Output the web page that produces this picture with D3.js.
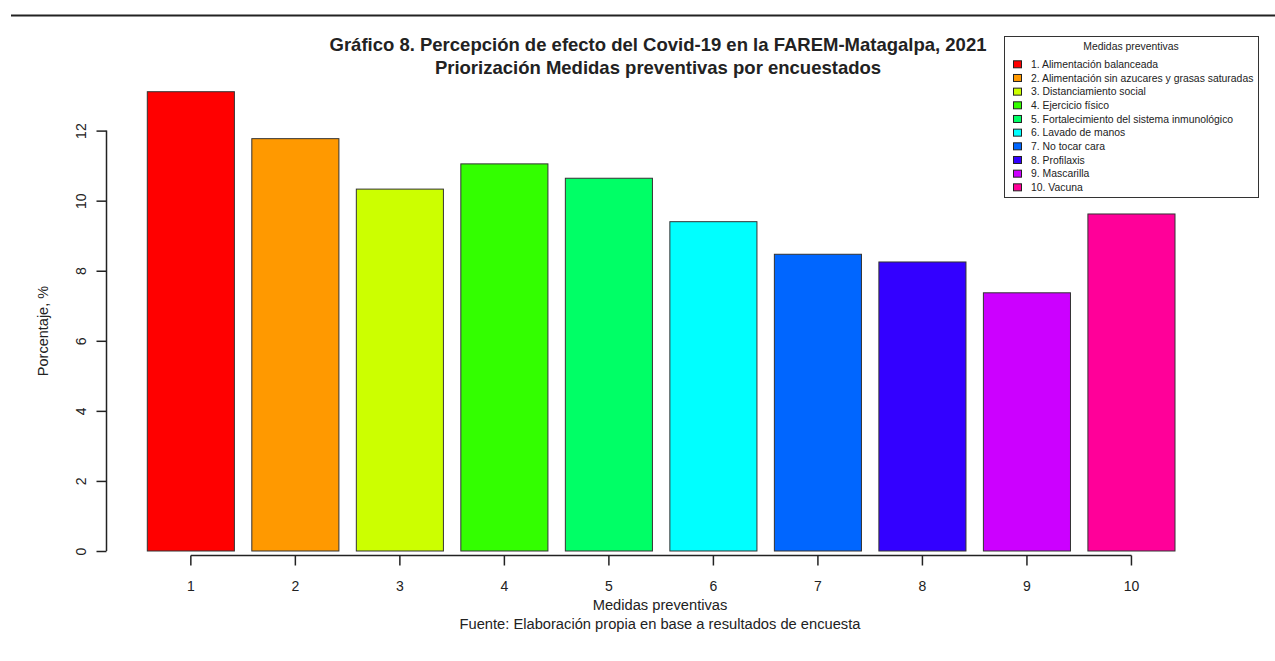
<!DOCTYPE html>
<html>
<head>
<meta charset="utf-8">
<script src="https://cdn.jsdelivr.net/npm/d3@7"></script>
<style>
  body { margin: 0; background: #fff; }
  text { font-family: "Liberation Sans", Arial, sans-serif; fill: #222; }
</style>
</head>
<body>
<div id="chart"></div>
<script>
// data (percent of respondents)
var categories = ["1", "2", "3", "4", "5", "6", "7", "8", "9", "10"];
var values = [13.11, 11.77, 10.33, 11.05, 10.64, 9.40, 8.47, 8.25, 7.37, 9.62];
var legendLabels = [
    "1. Alimentación balanceada",
    "2. Alimentación sin azucares y grasas saturadas",
    "3. Distanciamiento social",
    "4. Ejercicio físico",
    "5. Fortalecimiento del sistema inmunológico",
    "6. Lavado de manos",
    "7. No tocar cara",
    "8. Profilaxis",
    "9. Mascarilla",
    "10. Vacuna"
];
var colors = ["#FF0000", "#FF9900", "#CCFF00", "#33FF00", "#00FF66",
              "#00FFFF", "#0066FF", "#3300FF", "#CC00FF", "#FF0099"];
var yTicks = [0, 2, 4, 6, 8, 10, 12];

var w = 1275, h = 661;
var svg = d3.select("#chart").append("svg")
    .attr("width", w)
    .attr("height", h);

// top rule
svg.append("line")
    .attr("x1", 11).attr("x2", w)
    .attr("y1", 15.5).attr("y2", 15.5)
    .attr("stroke", "#222")
    .attr("stroke-width", 2);

// scales (R barplot style: width 1, space 0.2)
var x = d3.scaleBand()
    .domain(categories)
    .range([147.3, 1175])
    .paddingInner(0.2 / 1.2)
    .paddingOuter(0);
var y = d3.scaleLinear()
    .domain([0, 12])
    .range([551, 130.6]);

// bars
svg.selectAll("rect.bar")
    .data(values)
    .enter().append("rect")
    .attr("class", "bar")
    .attr("x", function(d, i) { return x(categories[i]); })
    .attr("y", function(d) { return y(d); })
    .attr("width", x.bandwidth())
    .attr("height", function(d) { return y(0) - y(d); })
    .attr("fill", function(d, i) { return colors[i]; })
    .attr("stroke", "#333")
    .attr("stroke-width", 1);

// y axis
var yAxis = svg.append("g")
    .attr("transform", "translate(106.5,0)")
    .call(d3.axisLeft(y).tickValues(yTicks).tickSize(10).tickFormat(d3.format("d")));
yAxis.select(".domain").attr("stroke", "#222").attr("stroke-width", 1.5)
    .attr("d", "M0," + y(0) + "V" + y(12));
yAxis.selectAll(".tick line").attr("stroke", "#222").attr("stroke-width", 1.5);
yAxis.selectAll(".tick text")
    .attr("x", 0).attr("dy", null)
    .attr("transform", "translate(-21,0) rotate(-90)")
    .attr("text-anchor", "middle")
    .attr("font-family", "Liberation Sans, Arial, sans-serif")
    .attr("font-size", "14px")
    .attr("fill", "#222");

// x axis
var xAxis = svg.append("g")
    .attr("transform", "translate(0,555.5)")
    .call(d3.axisBottom(x).tickSize(10).tickPadding(16));
var cx0 = x(categories[0]) + x.bandwidth() / 2;
var cx1 = x(categories[categories.length - 1]) + x.bandwidth() / 2;
xAxis.select(".domain").attr("stroke", "#222").attr("stroke-width", 1.5)
    .attr("d", "M" + cx0 + ",0H" + cx1);
xAxis.selectAll(".tick line").attr("stroke", "#222").attr("stroke-width", 1.5);
xAxis.selectAll(".tick text")
    .attr("font-family", "Liberation Sans, Arial, sans-serif")
    .attr("font-size", "14px")
    .attr("fill", "#222");

// titles
svg.append("text")
    .attr("x", 658).attr("y", 51)
    .attr("text-anchor", "middle")
    .attr("font-size", "18.5px")
    .attr("font-weight", "bold")
    .text("Gráfico 8. Percepción de efecto del Covid-19 en la FAREM-Matagalpa, 2021");
svg.append("text")
    .attr("x", 658).attr("y", 74)
    .attr("text-anchor", "middle")
    .attr("font-size", "18.5px")
    .attr("font-weight", "bold")
    .text("Priorización Medidas preventivas por encuestados");

// axis titles
svg.append("text")
    .attr("x", 660).attr("y", 610)
    .attr("text-anchor", "middle")
    .attr("font-size", "14.7px")
    .text("Medidas preventivas");
svg.append("text")
    .attr("x", 660).attr("y", 629)
    .attr("text-anchor", "middle")
    .attr("font-size", "14.7px")
    .text("Fuente: Elaboración propia en base a resultados de encuesta");
svg.append("text")
    .attr("transform", "translate(48,331) rotate(-90)")
    .attr("text-anchor", "middle")
    .attr("font-size", "14.5px")
    .text("Porcentaje, %");

// legend
var lg = svg.append("g").attr("transform", "translate(1004,36)");
lg.append("rect")
    .attr("x", 0.5).attr("y", 0.5)
    .attr("width", 254).attr("height", 161)
    .attr("fill", "#fff")
    .attr("stroke", "#333")
    .attr("stroke-width", 1);
lg.append("text")
    .attr("x", 127).attr("y", 14)
    .attr("text-anchor", "middle")
    .attr("font-size", "10.4px")
    .text("Medidas preventivas");
var items = lg.selectAll("g.item")
    .data(legendLabels)
    .enter().append("g")
    .attr("class", "item")
    .attr("transform", function(d, i) { return "translate(0," + (28.3 + i * 13.67) + ")"; });
items.append("rect")
    .attr("x", 9.5).attr("y", -3.5)
    .attr("width", 8).attr("height", 7)
    .attr("fill", function(d, i) { return colors[i]; })
    .attr("stroke", "#222")
    .attr("stroke-width", 1);
items.append("text")
    .attr("x", 27).attr("y", 3.7)
    .attr("font-size", "10.4px")
    .text(function(d) { return d; });
</script>
</body>
</html>
